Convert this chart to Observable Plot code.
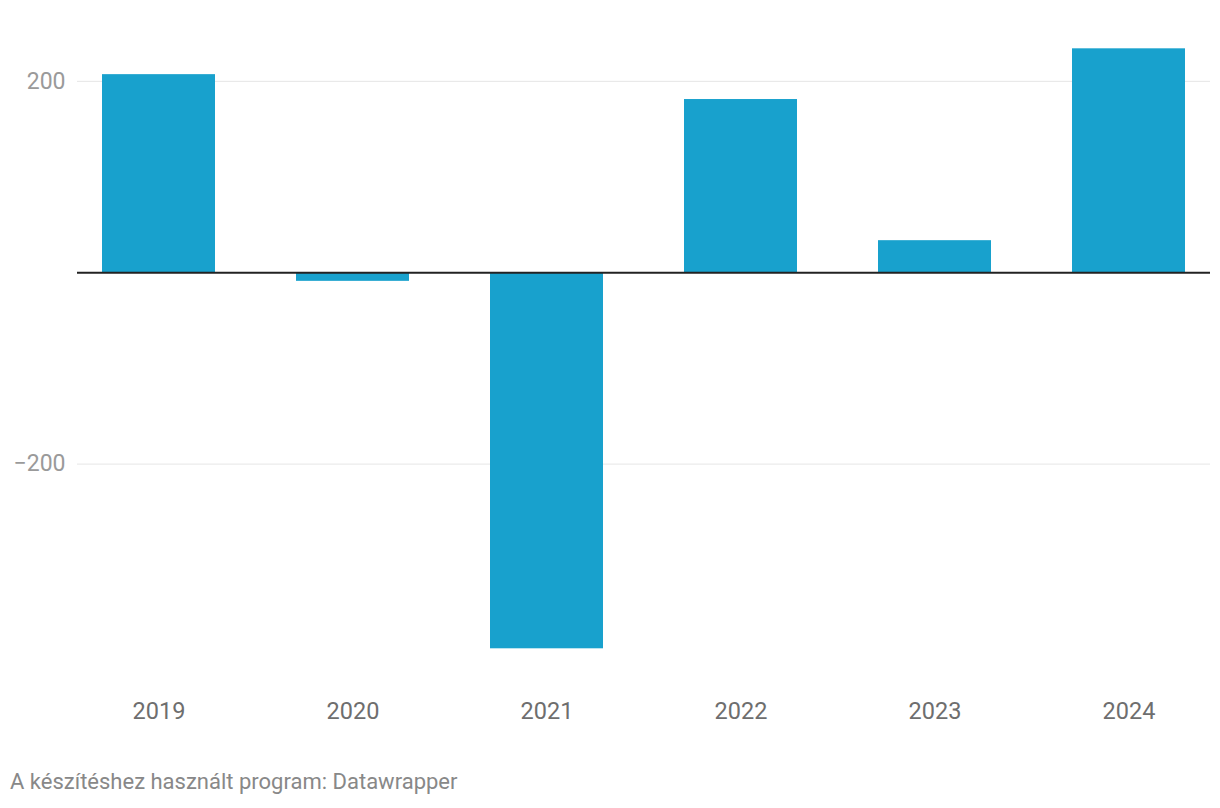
<!DOCTYPE html>
<html>
<head>
<meta charset="utf-8">
<script src="https://cdn.jsdelivr.net/npm/d3@7"></script>
<script src="https://cdn.jsdelivr.net/npm/@observablehq/plot@0.6"></script>
<style>
  html, body { margin: 0; padding: 0; background: #fff; }
  body { width: 1220px; height: 808px; overflow: hidden; font-family: Roboto, "Noto Sans", sans-serif; }
  #chart svg { display: block; }
  #caption { margin-top: 28px; padding-left: 10px; font-size: 22px; line-height: 18px; color: #888; font-family: Roboto, sans-serif; white-space: nowrap; }
</style>
</head>
<body>
<div id="chart"></div>
<div id="caption">A készítéshez használt program: Datawrapper</div>
<script>
const years = ["2019", "2020", "2021", "2022", "2023", "2024"];
const values = [207, -9, -393, 181, 33.5, 234];
const yTicks = [-200, 0, 200];
const yTickLabels = ["−200", "", "200"];

const data = years.map((y, i) => ({year: y, value: values[i]}));

const chart = Plot.plot({
  width: 1220,
  height: 745,
  marginTop: 33,
  marginBottom: 90,
  marginLeft: 77,
  marginRight: 10,
  style: {fontFamily: "Roboto, sans-serif", background: "#fff"},
  x: {domain: years, paddingInner: 0.418, paddingOuter: 0.12, label: null},
  y: {domain: [-400, 250], label: null},
  marks: [
    Plot.gridY(yTicks.filter(d => d !== 0), {stroke: "#e6e6e6", strokeOpacity: 1, strokeWidth: 1}),
    Plot.barY(data, {x: "year", y: "value", fill: "#18a1cd"}),
    Plot.ruleY([0], {stroke: "#222", strokeWidth: 2}),
    Plot.axisY(yTicks, {
      tickSize: 0, tickPadding: 12, fontSize: 23, color: "#9a9a9a",
      tickFormat: d => yTickLabels[yTicks.indexOf(d)]
    }),
    Plot.axisX({tickSize: 0, tickPadding: 47, fontSize: 23.5, color: "#6e6e6e", label: null})
  ]
});
chart.querySelectorAll("text").forEach(t => t.setAttribute("fill-opacity", "1"));
document.getElementById("chart").appendChild(chart);
</script>
</body>
</html>
